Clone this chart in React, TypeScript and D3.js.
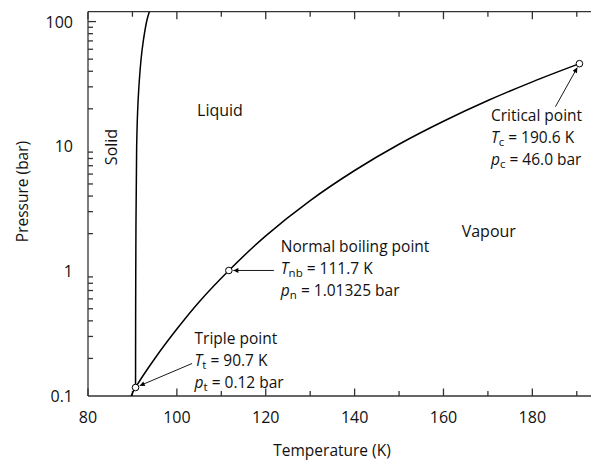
import React from "react";
import * as d3 from "d3";

// Vapour-pressure / sublimation curve (K, bar)
const vapT = [89.7, 90.7, 95, 100, 105, 111.7, 120, 130, 140, 150, 160, 170, 180, 190.6];
const vapP = [0.1, 0.117, 0.199, 0.344, 0.567, 1.013, 1.92, 3.68, 6.41, 10.4, 15.9, 23.3, 32.9, 46.0];
// Melting curve
const meltT = [90.7, 90.75, 90.95, 91.27, 91.92, 92.47, 93.27, 93.8];
const meltP = [0.117, 1, 10, 23, 49, 71, 103, 120];
// Special points
const pointNames = ["Triple point", "Normal boiling point", "Critical point"];
const pointT = [90.7, 111.7, 190.6];
const pointP = [0.117, 1.01325, 46.0];
const symT = ["t", "nb", "c"];
const symP = ["t", "n", "c"];
const valT = ["90.7 K", "111.7 K", "190.6 K"];
const valP = ["0.12 bar", "1.01325 bar", "46.0 bar"];
// Ticks
const xTicks = [80, 90, 100, 110, 120, 130, 140, 150, 160, 170, 180, 190];
const xLabels = [80, 100, 120, 140, 160, 180];
const yLabels = [0.1, 1, 10, 100];
const yLabelText = ["0.1", "1", "10", "100"];
// Region labels
const regionNames = ["Liquid", "Vapour"];
const regionT = [109.7, 170.2];
const regionP = [17.6, 1.89];

const FONT = "'Open Sans', sans-serif";

export default function App() {
  const W = 591, H = 461;
  const x = d3.scaleLinear().domain([80, 193.2]).range([88, 591]);
  const y = d3.scaleLog().domain([0.1, 120]).range([396, 11.7]);
  const x0 = x(80), y0 = y(0.1), yTop = y(120);

  const yMinor: number[] = [];
  [0.1, 1, 10].forEach((d) => {
    for (let k = 2; k <= 9; k++) yMinor.push(d * k);
  });
  yMinor.push(100);

  const line = d3
    .line<[number, number]>()
    .x((d) => x(d[0]))
    .y((d) => y(d[1]))
    .curve(d3.curveCatmullRom.alpha(0.5));

  const vapData = vapT.map((t, i) => [t, vapP[i]] as [number, number]);
  const meltData = meltT.map((t, i) => [t, meltP[i]] as [number, number]);

  // annotation layout offsets relative to the point (pixels)
  const textOff = [
    [59, -43.5],
    [52, -18.5],
    [-88.5, 57],
  ];
  const tailOff = [
    [56.5, -24],
    [45, 0],
    [-24, 43],
  ];
  const R = 3.3;
  const lh = 22;
  const fs = 15.5;

  return (
    <svg
      width={W}
      height={H}
      style={{ position: "absolute", left: 0, top: 0, background: "#fff" }}
      fontFamily={FONT}
    >
      <defs>
        <clipPath id="plot">
          <rect x={x0} y={yTop} width={W - x0} height={y0 - yTop} />
        </clipPath>
        <marker
          id="ah"
          viewBox="0 0 10 10"
          refX={10}
          refY={5}
          markerWidth={7}
          markerHeight={5}
          markerUnits="userSpaceOnUse"
          orient="auto"
        >
          <path d="M0,0 L10,5 L0,10 Z" fill="#000" />
        </marker>
      </defs>

      {/* axes frame */}
      <g stroke="#333" strokeWidth={1.3} fill="none">
        <line x1={x0} x2={W} y1={y0} y2={y0} />
        <line x1={x0} x2={W} y1={yTop} y2={yTop} />
        <line x1={x0} x2={x0} y1={yTop} y2={y0} />
        {xTicks.map((t) => {
          const len = t % 20 === 0 ? 7.5 : 5;
          return (
            <g key={t}>
              <line x1={x(t)} x2={x(t)} y1={y0} y2={y0 - len} />
              <line x1={x(t)} x2={x(t)} y1={yTop} y2={yTop + len} />
            </g>
          );
        })}
        {yMinor.map((p) => {
          const major = [1, 10, 100].includes(Math.round(p * 1000) / 1000);
          const len = major ? 8 : 5;
          return <line key={p} x1={x0} x2={x0 + len} y1={y(p)} y2={y(p)} />;
        })}
      </g>

      {/* tick labels */}
      <g fontSize={16} fill="#111">
        {xLabels.map((t) => (
          <text key={t} x={x(t)} y={423} textAnchor="middle">
            {t}
          </text>
        ))}
        {yLabels.map((p, i) => (
          <text key={p} x={73} y={y(p) + 6} textAnchor="end">
            {yLabelText[i]}
          </text>
        ))}
      </g>

      {/* axis titles */}
      <text x={332} y={456} textAnchor="middle" fontSize={15.5} fill="#111">
        Temperature (K)
      </text>
      <text
        transform={`translate(27.5,191.5) rotate(-90)`}
        textAnchor="middle"
        fontSize={15.5}
        fill="#111"
      >
        Pressure (bar)
      </text>

      {/* curves */}
      <g clipPath="url(#plot)" fill="none" stroke="#000" strokeWidth={1.5}>
        <path d={line(vapData) || ""} />
        <path d={line(meltData) || ""} />
      </g>

      {/* region labels */}
      <g fontSize={16} fill="#111">
        {regionNames.map((n, i) => (
          <text key={n} x={x(regionT[i])} y={y(regionP[i])} textAnchor="middle">
            {n}
          </text>
        ))}
        <text transform={`translate(116.5,147) rotate(-90)`} textAnchor="middle">
          Solid
        </text>
      </g>

      {/* annotations */}
      {pointNames.map((n, i) => {
        const cx = x(pointT[i]);
        const cy = y(pointP[i]);
        const tx = cx + textOff[i][0];
        const ty = cy + textOff[i][1];
        const ax = cx + tailOff[i][0];
        const ay = cy + tailOff[i][1];
        const dx = cx - ax, dy = cy - ay;
        const dist = Math.hypot(dx, dy);
        const hx = cx - (dx / dist) * (R + 1.2);
        const hy = cy - (dy / dist) * (R + 1.2);
        return (
          <g key={n}>
            <line
              x1={ax}
              y1={ay}
              x2={hx}
              y2={hy}
              stroke="#000"
              strokeWidth={0.9}
              markerEnd="url(#ah)"
            />
            <g fontSize={fs} fill="#111">
              <text x={tx} y={ty}>{n}</text>
              <text x={tx} y={ty + lh}>
                <tspan fontStyle="italic">T</tspan>
                <tspan fontSize={11.5} dy={3.5}>{symT[i]}</tspan>
                <tspan dy={-3.5}>{" = " + valT[i]}</tspan>
              </text>
              <text x={tx} y={ty + 2 * lh}>
                <tspan fontStyle="italic">p</tspan>
                <tspan fontSize={11.5} dy={3.5}>{symP[i]}</tspan>
                <tspan dy={-3.5}>{" = " + valP[i]}</tspan>
              </text>
            </g>
          </g>
        );
      })}
      {pointNames.map((n, i) => (
        <circle
          key={n + "c"}
          cx={x(pointT[i])}
          cy={y(pointP[i])}
          r={R}
          fill="#fff"
          stroke="#000"
          strokeWidth={1}
        />
      ))}
    </svg>
  );
}
